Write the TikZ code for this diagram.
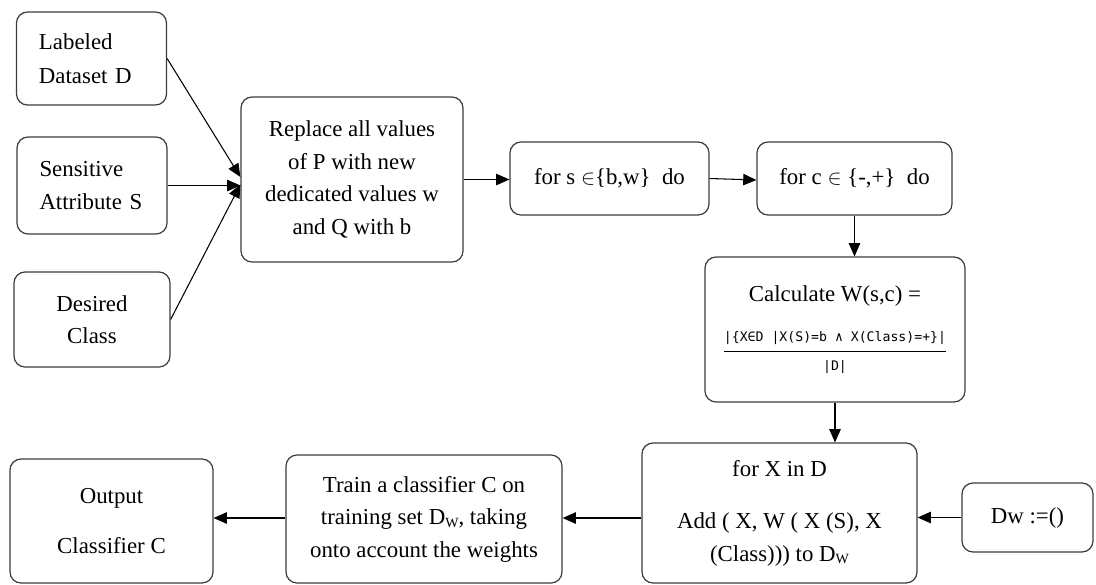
\documentclass[tikz,border=0pt]{standalone}
\usepackage{fontspec}
\setmainfont{Liberation Serif}
\newfontfamily\fracfont{DejaVu Sans Mono}
\usetikzlibrary{arrows.meta}
\definecolor{boxline}{HTML}{3C3C3C}
\tikzset{
  box/.style={draw=boxline, line width=0.7pt, rounded corners=0.22cm, inner sep=0pt,
    align=center, font=\fontsize{13}{18.5}\selectfont},
  srcbox/.style={box, align=left, text width=2.1cm, inner xsep=0.45cm},
  arr/.style={-{Triangle[length=7.5pt,width=6.5pt]}, line width=0.6pt}
}
\begin{document}
\begin{tikzpicture}
  \useasboundingbox (0,0) rectangle (21.92,-11.68);
  % inputs
  \node[srcbox, minimum height=1.86cm] (data) at (1.83,-1.17) {Labeled\\[1pt]Dataset D};
  \node[srcbox, minimum height=1.94cm] (sens) at (1.84,-3.71) {Sensitive\\Attribute S};
  \node[box, minimum width=3.12cm, minimum height=1.9cm] (cls) at (1.84,-6.39) {Desired\\Class};
  \node[box, minimum width=4.44cm, minimum height=3.3cm] (repl) at (7.04,-3.59)
    {Replace all values\\of P with new\\dedicated values w\\and Q with b};
  % loops
  \node[box, minimum width=3.98cm, minimum height=1.46cm] (fors) at (12.19,-3.57)
    {for s $\in$\{b,w\}\ \ do};
  \node[box, minimum width=3.9cm, minimum height=1.46cm] (forc) at (17.09,-3.57)
    {for c $\in$ \{-,+\}\ \ do};
  \node[box, minimum width=5.2cm, minimum height=2.9cm] (calc) at (16.70,-6.59)
    {Calculate W(s,c) =\\[0.45cm]
     $\displaystyle\frac{\mbox{\fracfont\fontsize{7.5}{9}\selectfont |\{X∈D |X(S)=b ∧ X(Class)=+\}|}}
            {\mbox{\fracfont\fontsize{7.5}{9}\selectfont |D|}}$};
  \node[box, minimum width=5.5cm, minimum height=2.8cm] (forx) at (15.59,-10.26)
    {for X in D\\[0.4cm]Add ( X, W ( X (S), X\\(Class))) to D\raisebox{-0.25ex}{\footnotesize W}};
  \node[box, minimum width=2.62cm, minimum height=1.38cm] (dw) at (20.55,-10.35) {Dw :=()};
  % training and output
  \node[box, minimum width=5.52cm, minimum height=2.56cm] (train) at (8.48,-10.38)
    {Train a classifier C on\\training set D\raisebox{-0.25ex}{\footnotesize W}, taking\\onto account the weights};
  \node[box, minimum width=4.06cm, minimum height=2.48cm] (out) at (2.23,-10.42)
    {Output\\[0.35cm]Classifier C};

  \draw[arr] (data.east) -- ([yshift=0.05cm]repl.west);
  \draw[arr] (sens) -- (sens -| repl.west);
  \draw[arr] (cls.east) -- ([yshift=-0.1cm]repl.west);
  \draw[arr] (repl) -- (repl -| fors.west);
  \draw[arr] (fors.east) -- ([yshift=-0.03cm]forc.west);
  \draw[arr] (forc.south) -- (forc.south |- calc.north);
  \draw[arr] (calc.south) -- (calc.south |- forx.north);
  \draw[arr] (dw.west) -- (dw.west -| forx.east);
  \draw[arr] ([yshift=-0.1cm]forx.west) -- ([yshift=-0.1cm]forx.west -| train.east);
  \draw[arr] ([yshift=-0.1cm]forx.west -| train.west) -- ([yshift=-0.1cm]forx.west -| out.east);
\end{tikzpicture}
\end{document}
